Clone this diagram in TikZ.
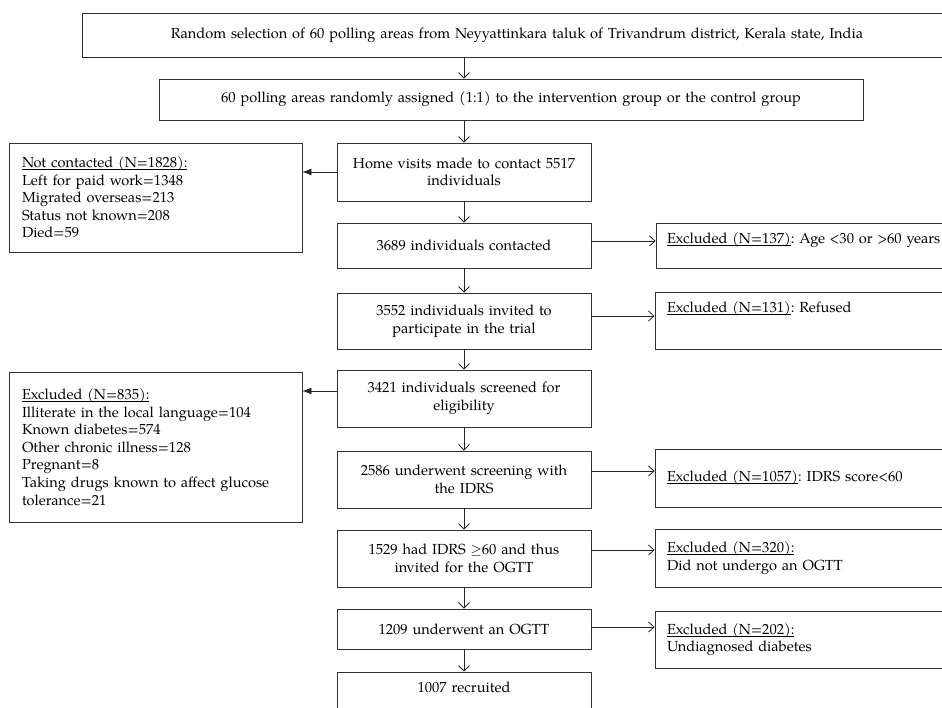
\documentclass[tikz,border=0pt]{standalone}
\usepackage{fontspec}
\setmainfont{TeX Gyre Pagella}
\usetikzlibrary{arrows.meta,calc}
\newcommand{\uln}[1]{\setbox0\hbox{#1}\rlap{\rule[-2.3pt]{\wd0}{0.6pt}}#1}
\newcommand{\smsym}[1]{\scalebox{0.85}[1]{#1}}
\frenchspacing
\begin{document}
\begin{tikzpicture}[x=1pt,y=-1pt,
  every node/.style={font=\fontsize{14.6}{17.6}\selectfont},
  box/.style={draw=black!80, line width=0.8pt, rectangle, inner sep=0pt, align=center},
  mainbox/.style={box, text width=254pt, minimum width=254pt},
  sidebox/.style={box, align=left, inner xsep=12pt, text width=311pt},
  leftbox/.style={box, align=left, inner xsep=13pt, text width=267pt, minimum width=293pt},
  toptext/.style={text height=10pt, text depth=#1, inner ysep=10.5pt},
  conn/.style={draw=black!85, line width=0.8pt},
  dn/.style={conn, -{Straight Barb[length=5.5pt,width=11pt]}},
  rt/.style={conn, -{Straight Barb[length=5.5pt,width=10pt]}},
  lt/.style={conn, -{Latex[length=9pt,width=7pt]}}
]
\useasboundingbox (0,0) rectangle (942,708);
\clip (0,0) rectangle (942,708);

% top boxes
\node[box, text width=870pt, minimum height=44pt] (top) at (517,35)
  {Random selection of 60 polling areas from Neyyattinkara taluk of Trivandrum district, Kerala state, India};
\node[box, text width=704pt, minimum height=41pt] (assign) at (511,99.5)
  {60 polling areas randomly assigned (1:1) to the intervention group or the control group};

% main column
\node[mainbox, minimum height=58pt] (home) at (464,172) {Home visits made to contact 5517\\individuals};
\node[mainbox, minimum height=45pt] (c3689) at (464,245.5) {3689 individuals contacted};
\node[mainbox, minimum height=56pt] (c3552) at (464,321) {3552 individuals invited to\\participate in the trial};
\node[mainbox, minimum height=57pt] (c3421) at (464,398.5) {3421 individuals screened for\\eligibility};
\node[mainbox, minimum height=57pt] (c2586) at (464,479.5) {2586 underwent screening with\\the IDRS};
\node[mainbox, minimum height=57pt] (c1529) at (464,558.5) {1529 had IDRS $\geq$60 and thus\\invited for the OGTT};
\node[mainbox, minimum height=40pt] (c1209) at (464,629) {1209 underwent an OGTT};
\node[mainbox, toptext=27pt] (c1007) at (464,701) {1007 recruited};

% left boxes
\node[leftbox, minimum height=109pt] (nc) at (155.5,197.5)
  {\uln{Not contacted (N=1828):}\\Left for paid work=1348\\Migrated overseas=213\\Status not known=208\\Died=59};
\node[leftbox, minimum height=150pt] (ex835) at (155.5,447)
  {\uln{Excluded (N=835):}\\Illiterate in the local language=104\\Known diabetes=574\\Other chronic illness=128\\Pregnant=8\\Taking drugs known to affect glucose\\tolerance=21};

% right boxes
\node[sidebox, toptext=14pt, inner xsep=11pt] (r137) at (822.5,245.5) {\uln{Excluded (N=137)}: Age \smsym{<}30 or \smsym{>}60 years};
\node[sidebox, toptext=26pt] (r131) at (822.5,320.5) {\uln{Excluded (N=131)}: Refused};
\node[sidebox, minimum height=58pt] (r1057) at (822.5,478) {\uln{Excluded (N=1057)}: IDRS score\smsym{<}60};
\node[sidebox, minimum height=58pt] (r320) at (822.5,558) {\uln{Excluded (N=320):}\\Did not undergo an OGTT};
\node[sidebox, minimum height=57pt] (r202) at (822.5,639.5) {\uln{Excluded (N=202):}\\Undiagnosed diabetes};

% vertical connectors
\draw[dn] (top.south -| home.north) -- (assign.north -| home.north);
\draw[dn] (assign.south -| home.north) -- (home.north);
\draw[dn] (home.south) -- (c3689.north);
\draw[dn] (c3689.south) -- (c3552.north);
\draw[dn] (c3552.south) -- (c3421.north);
\draw[dn] (c3421.south) -- (c2586.north);
\draw[dn] (c2586.south) -- (c1529.north);
\draw[dn] (c1529.south) -- (c1209.north);
\draw[dn] (c1209.south) -- (c1007.north);

% left connectors
\draw[lt] (home.west) -- (home.west -| nc.east);
\draw[lt] ([yshift=7.5pt]c3421.west) -- ([yshift=7.5pt]c3421.west -| ex835.east);

% right connectors
\draw[rt] ([yshift=4.5pt]c3689.east) -- ([yshift=4.5pt]c3689.east -| r137.west);
\draw[rt] ([yshift=5pt]c3552.east) -- ([yshift=5pt]c3552.east -| r131.west);
\draw[rt] ([yshift=8.5pt]c2586.east) -- ([yshift=8.5pt]c2586.east -| r1057.west);
\draw[rt] ([yshift=8.5pt]c1529.east) -- ([yshift=8.5pt]c1529.east -| r320.west);
\draw[rt] ([yshift=2pt]c1209.east) -- ([yshift=2pt]c1209.east -| r202.west);
\end{tikzpicture}
\end{document}
